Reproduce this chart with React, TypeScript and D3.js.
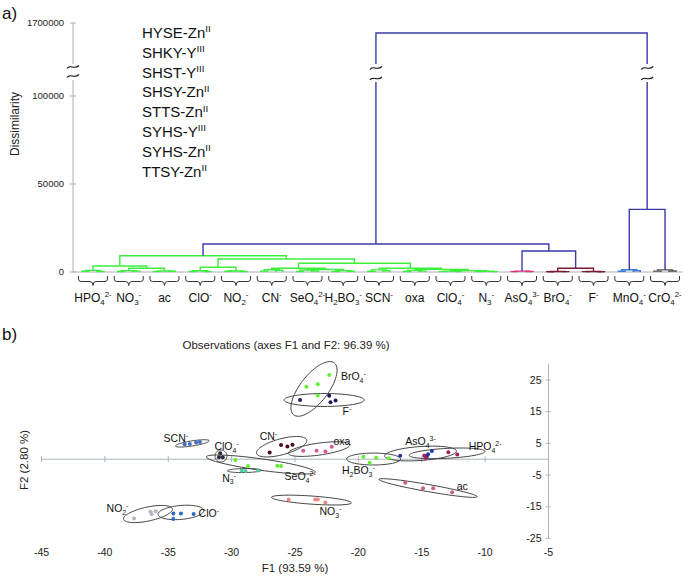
import React from "react";
import * as d3 from "d3";

// ---------- DATA: dendrogram (a) ----------
const groupKeys = ["HPO4","NO3","ac","ClO","NO2","CN","SeO4","H2BO3","SCN","oxa","ClO4","N3","AsO4","BrO4","F","MnO4","CrO4"];
const groupLabels = ["HPO_4^2-","NO_3^-","ac","ClO^-","NO_2^-","CN^-","SeO_4^2-","H_2BO_3^-","SCN^-","oxa","ClO_4^-","N_3^-","AsO_4^3-","BrO_4^-","F^-","MnO_4^-","CrO_4^2-"];
// within-group (replicate) merge heights: [pair1, pair2, group]
const replicateHeights = [
  [400,300,900],[300,500,800],[200,400,600],[300,200,700],[400,300,600],
  [500,900,1300],[300,600,1100],[200,400,800],[400,700,1200],[300,500,900],
  [200,300,500],[200,200,400],[200,300,500],[100,200,300],[200,100,300],
  [400,700,1300],[500,600,1200]
];
// linkage between groups: [left, right, dissimilarity]
const merges: [string,string,number][] = [
  ["NO3","ac",2100],
  ["HPO4","m0",3400],
  ["ClO","NO2",2700],
  ["SeO4","H2BO3",1400],
  ["CN","m3",2100],
  ["ClO4","N3",800],
  ["oxa","m5",1500],
  ["SCN","m6",2100],
  ["m4","m7",5000],
  ["m2","m8",7400],
  ["m1","m9",9260],
  ["BrO4","F",2100],
  ["AsO4","m11",11900],
  ["m10","m12",15900],
  ["MnO4","CrO4",35600],
  ["m13","m14",1480000]
];
const dissTicks = [0, 50000, 100000, 1700000];
const strainNames = ["HYSE-Zn^II","SHKY-Y^III","SHST-Y^III","SHSY-Zn^II","STTS-Zn^II","SYHS-Y^III","SYHS-Zn^II","TTSY-Zn^II"];

// ---------- DATA: PCA observations (b) ----------
const obsLabels = ["BrO_4^-","F^-","SCN^-","ClO_4^-","SeO_4^2-","N_3^-","CN^-","oxa","H_2BO_3^-","AsO_4^3-","HPO_4^2-","ac","NO_3^-","NO_2^-","ClO^-"];
const obsF1 = [
  [-24.1,-23.2,-22.3,-23.2],
  [-24.6,-22.3,-22.2,-21.8],
  [-33.7,-33.3,-32.8,-32.5],
  [-30.9,-31.0,-30.7],
  [-29.7,-28.7,-26.4,-26.1],
  [-29.2,-28.9,-27.9],
  [-27.0,-26.1,-25.6,-25.2],
  [-24.35,-23.3,-22.6,-22.1],
  [-19.6,-18.6,-19.1,-17.6],
  [-16.7,-14.6,-14.5,-14.2],
  [-14.8,-14.7,-12.9,-12.2],
  [-16.3,-14.9,-14.1,-12.6],
  [-25.5,-23.4,-23.2,-22.6],
  [-37.7,-36.4,-36.3,-36.0],
  [-34.6,-34.0,-33.0,-34.6]
];
const obsF2 = [
  [22.9,23.7,26.6,20.1],
  [18.7,20.05,18.0,18.5],
  [4.7,4.8,5.3,5.4],
  [1.9,0.6,0.6],
  [-0.25,-2.15,-2.05,-2.15],
  [-3.6,-3.7,-3.6],
  [2.1,4.5,4.0,4.6],
  [2.7,2.7,2.4,3.95],
  [0.8,0.5,-1.1,0.3],
  [1.1,0.85,1.55,2.6],
  [1.2,0.4,2.2,1.5],
  [-7.4,-9.2,-9.2,-10.45],
  [-12.7,-12.7,-12.7,-13.7],
  [-18.7,-16.6,-17.4,-16.4],
  [-17.1,-17.1,-17.3,-18.9]
];
// confidence ellipses: centre, semi-axes (F1 units), orientation (deg)
const ellF1 = [-23.5,-22.7,-33.1,-30.84,-27.7,-29.0,-26.05,-23.1,-18.8,-15.1,-13.0,-14.5,-23.7,-36.6,-34.0];
const ellF2 = [22.2,18.7,5.0,1.0,-1.67,-3.57,3.95,3.2,0.06,1.8,1.86,-9.1,-12.9,-17.3,-16.8];
const ellMajor = [2.6,3.16,1.34,0.47,4.34,1.34,2.05,2.45,2.13,2.84,3.0,3.94,3.16,1.97,1.81];
const ellMinor = [1.1,0.51,0.2,0.47,0.45,0.16,0.63,0.47,0.47,0.55,0.39,0.28,0.32,0.55,0.55];
const ellAngle = [-52,0,-9,0,8,-1,-15,-8,0,-4,-3,10,4,-12,-5];
const labF1 = [-20.4,-20.9,-34.4,-30.4,-24.6,-30.2,-27.1,-21.3,-20.0,-15.1,-10.0,-11.8,-22.2,-39.0,-31.8];
const labF2 = [26.0,15.0,6.6,3.95,-5.5,-5.9,7.3,5.5,-3.4,5.5,3.95,-8.7,-16.6,-15.5,-17.1];
const f1Ticks = [-45,-40,-35,-30,-25,-20,-15,-10,-5];
const f2Ticks = [25,15,5,-5,-15,-25];

// ---------- styles ----------
const GREEN = "#3def3d";
const BLUE = "#3b3ba8";
const groupColors = [GREEN,GREEN,GREEN,GREEN,GREEN,GREEN,GREEN,GREEN,GREEN,GREEN,GREEN,GREEN,"#e0307a","#7a1a30","#7a1a30","#3a7ad8","#555555"];
const mergeColors = [GREEN,GREEN,GREEN,GREEN,GREEN,GREEN,GREEN,GREEN,GREEN,GREEN,GREEN,"#7a1a30",BLUE,BLUE,BLUE,BLUE];
const pointColors = ["#66ee33","#1c1c5c","#3d6cc0","#2a2a3a","#66ee33","#55c8a0","#4a0a18","#d8559a","#66ee33","#2036a8","#a8205a","#cc5a8a","#e88888","#b0b8c0","#2a6ac0"];
const FONT = "'Liberation Sans', Arial, Helvetica, sans-serif";
const AXIS = "#a9b4be";

type Part = { t: string; k: "n" | "sub" | "sup" };
function parseChem(s: string): Part[] {
  const out: Part[] = [];
  let buf = "";
  let i = 0;
  while (i < s.length) {
    const c = s[i];
    if (c === "_") {
      if (buf) out.push({ t: buf, k: "n" });
      buf = "";
      i++;
      let sub = "";
      while (i < s.length && /[0-9]/.test(s[i])) sub += s[i++];
      out.push({ t: sub, k: "sub" });
    } else if (c === "^") {
      if (buf) out.push({ t: buf, k: "n" });
      buf = "";
      out.push({ t: s.slice(i + 1), k: "sup" });
      i = s.length;
    } else {
      buf += c;
      i++;
    }
  }
  if (buf) out.push({ t: buf, k: "n" });
  return out;
}

function Chem({ x, y, text, size, anchor = "middle", fill = "#111" }: any) {
  const parts = parseChem(text);
  let cur = 0;
  return (
    <text x={x} y={y} fontSize={size} textAnchor={anchor} fill={fill} fontFamily={FONT}>
      {parts.map((p, i) => {
        const target = p.k === "sub" ? size * 0.28 : p.k === "sup" ? -size * 0.38 : 0;
        const dy = target - cur;
        cur = target;
        return (
          <tspan key={i} dy={dy} fontSize={p.k === "n" ? size : size * 0.66}>
            {p.t}
          </tspan>
        );
      })}
    </text>
  );
}

function Tilde({ x, y }: { x: number; y: number }) {
  return (
    <path
      d={`M${x - 6},${y + 1.5} C${x - 3},${y - 3.5} ${x + 1},${y + 3.5} ${x + 6},${y - 1.5}`}
      fill="none"
      stroke="#111"
      strokeWidth={1.1}
    />
  );
}

export default function App() {
  // ---- dendrogram scales ----
  const xBand = d3.scaleBand().domain(groupKeys).range([75.1, 682.9]);
  const yD = d3.scaleLinear().domain([0, 100000, 1700000]).range([272, 96, 23]);
  const bw = xBand.bandwidth();

  type N = { x: number; h: number };
  const nodes: Record<string, N> = {};
  const links: { d: string; c: string }[] = [];
  const elbow = (a: N, b: N, h: number) =>
    `M${a.x},${yD(a.h)}V${yD(h)}H${b.x}V${yD(b.h)}`;

  groupKeys.forEach((g, gi) => {
    const c = (xBand(g) as number) + bw / 2;
    const [h1, h2, h3] = replicateHeights[gi];
    const leaf = [-11, -4, 4, 11].map((o) => ({ x: c + o, h: 0 }));
    const n1 = { x: (leaf[0].x + leaf[1].x) / 2, h: h1 };
    const n2 = { x: (leaf[2].x + leaf[3].x) / 2, h: h2 };
    const n3 = { x: (n1.x + n2.x) / 2, h: h3 };
    links.push({ d: elbow(leaf[0], leaf[1], h1), c: groupColors[gi] });
    links.push({ d: elbow(leaf[2], leaf[3], h2), c: groupColors[gi] });
    links.push({ d: elbow(n1, n2, h3), c: groupColors[gi] });
    nodes[g] = n3;
  });
  merges.forEach(([a, b, h], i) => {
    const na = nodes[a];
    const nb = nodes[b];
    links.push({ d: elbow(na, nb, h), c: mergeColors[i] });
    nodes["m" + i] = { x: (na.x + nb.x) / 2, h };
  });
  const root = merges[merges.length - 1];
  const breakXs = [nodes[root[0]].x, nodes[root[1]].x];

  // ---- PCA scales ----
  const xS = d3.scaleLinear().domain([-45, -5]).range([41.5, 548.5]);
  const yS = d3.scaleLinear().domain([-25, 30]).range([538.4, 364.2]);
  const kx = xS(1) - xS(0);
  const line = d3.line().curve(d3.curveLinearClosed);
  const ellipsePath = (i: number) => {
    const cx = xS(ellF1[i]);
    const cy = yS(ellF2[i]);
    const a = ellMajor[i] * kx;
    const b = ellMinor[i] * kx;
    const th = (ellAngle[i] * Math.PI) / 180;
    const pts: [number, number][] = d3.range(72).map((k) => {
      const t = (k / 72) * Math.PI * 2;
      return [
        cx + a * Math.cos(t) * Math.cos(th) - b * Math.sin(t) * Math.sin(th),
        cy + a * Math.cos(t) * Math.sin(th) + b * Math.sin(t) * Math.cos(th),
      ];
    });
    return line(pts) as string;
  };
  const y0 = yS(0);
  const xAxisEnd = xS(-5);

  return (
    <svg width={688} height={577} style={{ position: "absolute", left: 0, top: 0, background: "#fff" }} fontFamily={FONT}>
      {/* ===== (a) ===== */}
      <text x={2} y={19} fontSize={17} fill="#111">a)</text>
      <line x1={73} x2={73} y1={yD(1700000)} y2={yD(0)} stroke={AXIS} strokeWidth={1} />
      <line x1={73} x2={683} y1={yD(0)} y2={yD(0)} stroke={AXIS} strokeWidth={1} />
      {dissTicks.map((t) => (
        <g key={t}>
          <line x1={70} x2={76} y1={yD(t)} y2={yD(t)} stroke={AXIS} />
          <text x={64} y={yD(t) + 3.4} fontSize={9.5} textAnchor="end" fill="#222">{t}</text>
        </g>
      ))}
      <text transform="translate(19,124) rotate(-90)" fontSize={12} textAnchor="middle" fill="#222">Dissimilarity</text>
      {strainNames.map((s, i) => (
        <Chem key={s} x={142} y={38 + i * 19.8} text={s} size={15} anchor="start" />
      ))}

      {links.map((l, i) => (
        <path key={i} d={l.d} fill="none" stroke={l.c} strokeWidth={1.4} />
      ))}

      {/* axis and link breaks */}
      <rect x={67} y={64} width={12} height={16} fill="#fff" />
      <Tilde x={73} y={67} />
      <Tilde x={73} y={76} />
      {breakXs.map((bx) => (
        <g key={bx}>
          <rect x={bx - 6} y={64} width={12} height={18} fill="#fff" />
          <Tilde x={bx} y={68} />
          <Tilde x={bx} y={78.5} />
        </g>
      ))}

      {/* braces & labels */}
      {groupKeys.map((g, gi) => {
        const c = (xBand(g) as number) + bw / 2;
        const w = 14.5;
        const d = `M${c - w},276 V279 Q${c - w},281.5 ${c - w + 2.5},281.5 H${c - 3} Q${c},281.5 ${c},285.5 Q${c},281.5 ${c + 3},281.5 H${c + w - 2.5} Q${c + w},281.5 ${c + w},279 V276`;
        return (
          <g key={g}>
            <path d={d} fill="none" stroke="#333" strokeWidth={1} />
            <Chem x={c} y={301.5} text={groupLabels[gi]} size={12} />
          </g>
        );
      })}

      {/* ===== (b) ===== */}
      <text x={2} y={340} fontSize={17} fill="#111">b)</text>
      <text x={286} y={349} fontSize={11.5} textAnchor="middle" fill="#222">Observations (axes F1 and F2: 96.39 %)</text>
      <line x1={xS(-45)} x2={xAxisEnd} y1={y0} y2={y0} stroke={AXIS} strokeWidth={1} />
      {f1Ticks.map((t) => (
        <g key={t}>
          <line x1={xS(t)} x2={xS(t)} y1={y0 - 3} y2={y0 + 3} stroke={AXIS} />
          <text x={xS(t)} y={555.5} fontSize={10.5} textAnchor="middle" fill="#222">{t}</text>
        </g>
      ))}
      <line x1={xAxisEnd} x2={xAxisEnd} y1={yS(30)} y2={yS(-25)} stroke={AXIS} strokeWidth={1} />
      {f2Ticks.map((t) => (
        <g key={t}>
          <line x1={xAxisEnd - 3} x2={xAxisEnd + 2} y1={yS(t)} y2={yS(t)} stroke={AXIS} />
          <text x={541.5} y={yS(t) + 3.7} fontSize={10.5} textAnchor="end" fill="#222">{t}</text>
        </g>
      ))}
      <text x={295} y={572} fontSize={11.5} textAnchor="middle" fill="#222">F1 (93.59 %)</text>
      <text transform="translate(28,460) rotate(-90)" fontSize={11.5} textAnchor="middle" fill="#222">F2 (2.80 %)</text>

      {obsLabels.map((lab, i) => (
        <path key={"e" + i} d={ellipsePath(i)} fill="none" stroke="#444" strokeWidth={1} />
      ))}
      {obsLabels.map((lab, i) =>
        obsF1[i].map((v, j) => (
          <circle key={"p" + i + "-" + j} cx={xS(v)} cy={yS(obsF2[i][j])} r={2} fill={pointColors[i]} />
        ))
      )}
      {obsLabels.map((lab, i) => (
        <Chem key={"l" + i} x={xS(labF1[i])} y={yS(labF2[i]) + 3.6} text={lab} size={10.5} />
      ))}
    </svg>
  );
}
